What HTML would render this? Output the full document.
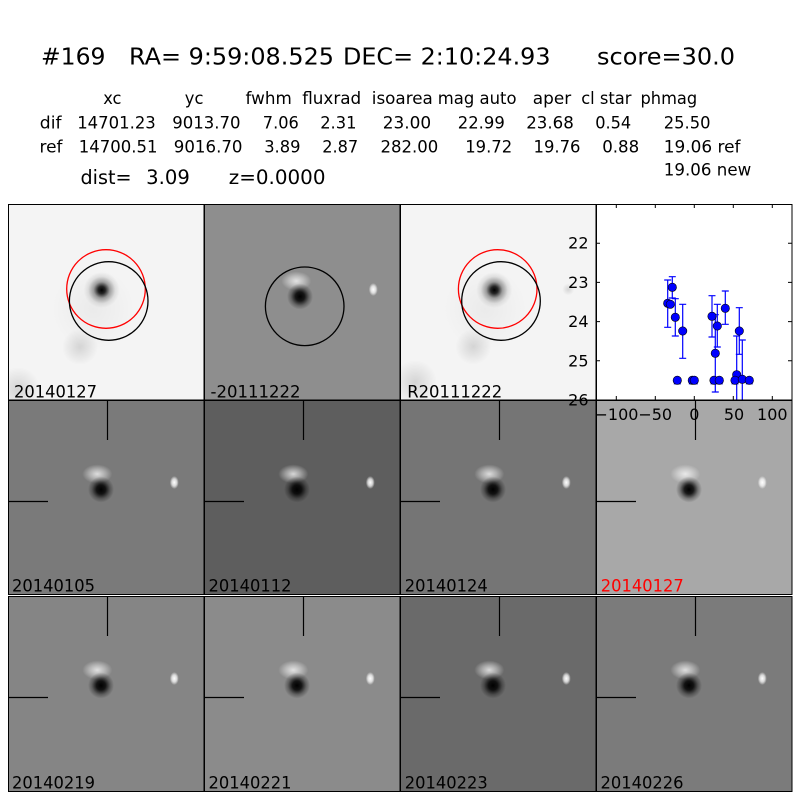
<!DOCTYPE html>
<html><head><meta charset="utf-8"><style>
html,body{margin:0;padding:0;background:#fff;}
svg{display:block;}
text{font-family:"DejaVu Sans","Liberation Sans",sans-serif;}
</style></head><body>
<svg width="800" height="800" viewBox="0 0 800 800" xmlns="http://www.w3.org/2000/svg">
<defs>
<radialGradient id="db"><stop offset="0" stop-color="#000" stop-opacity="1"/><stop offset="0.35" stop-color="#000" stop-opacity="0.85"/><stop offset="0.7" stop-color="#000" stop-opacity="0.3"/><stop offset="1" stop-color="#000" stop-opacity="0"/></radialGradient>
<radialGradient id="wb"><stop offset="0" stop-color="#fff" stop-opacity="0.75"/><stop offset="0.5" stop-color="#fff" stop-opacity="0.4"/><stop offset="1" stop-color="#fff" stop-opacity="0"/></radialGradient>
<radialGradient id="ws"><stop offset="0" stop-color="#fff" stop-opacity="1"/><stop offset="0.55" stop-color="#fff" stop-opacity="0.7"/><stop offset="1" stop-color="#fff" stop-opacity="0"/></radialGradient>
<radialGradient id="star"><stop offset="0" stop-color="#000" stop-opacity="1"/><stop offset="0.2" stop-color="#000" stop-opacity="0.85"/><stop offset="0.45" stop-color="#000" stop-opacity="0.35"/><stop offset="0.75" stop-color="#000" stop-opacity="0.08"/><stop offset="1" stop-color="#000" stop-opacity="0"/></radialGradient>
<radialGradient id="smudge"><stop offset="0" stop-color="#000" stop-opacity="0.13"/><stop offset="1" stop-color="#000" stop-opacity="0"/></radialGradient>
<radialGradient id="halo"><stop offset="0" stop-color="#000" stop-opacity="0.04"/><stop offset="1" stop-color="#000" stop-opacity="0"/></radialGradient>
<g id="diff">
<ellipse cx="89.3" cy="74" rx="15" ry="9.5" fill="url(#wb)"/>
<circle cx="93" cy="89.5" r="13" fill="url(#db)"/>
<ellipse cx="166.3" cy="82.5" rx="4.5" ry="6.5" fill="url(#ws)"/>
</g>
<g id="cross" stroke="#000" stroke-width="1.2">
<line x1="99.5" y1="0" x2="99.5" y2="40"/>
<line x1="0" y1="101.5" x2="40" y2="101.5"/>
</g>
<clipPath id="pc"><rect x="596" y="204" width="196" height="196"/></clipPath>
</defs>

<!-- Header -->
<g fill="#000">
<text x="41" y="64.3" font-size="23" textLength="64.5" lengthAdjust="spacingAndGlyphs">#169</text>
<text x="129" y="64.3" font-size="23" textLength="205" lengthAdjust="spacingAndGlyphs">RA= 9:59:08.525</text>
<text x="343" y="64.3" font-size="23" textLength="207.5" lengthAdjust="spacingAndGlyphs">DEC= 2:10:24.93</text>
<text x="597" y="64.3" font-size="23" textLength="138" lengthAdjust="spacingAndGlyphs">score=30.0</text>

<g font-size="17">
<text x="103.2" y="104" textLength="18.3" lengthAdjust="spacingAndGlyphs">xc</text>
<text x="184.8" y="104" textLength="18.7" lengthAdjust="spacingAndGlyphs">yc</text>
<text x="245.5" y="104" textLength="46.3" lengthAdjust="spacingAndGlyphs">fwhm</text>
<text x="302.2" y="104" textLength="59" lengthAdjust="spacingAndGlyphs">fluxrad</text>
<text x="371.8" y="104" textLength="61" lengthAdjust="spacingAndGlyphs">isoarea</text>
<text x="437.8" y="104" textLength="78.7" lengthAdjust="spacingAndGlyphs">mag auto</text>
<text x="532.8" y="104" textLength="38.4" lengthAdjust="spacingAndGlyphs">aper</text>
<text x="581.2" y="104" textLength="50.3" lengthAdjust="spacingAndGlyphs">cl star</text>
<text x="640.5" y="104" textLength="56.7" lengthAdjust="spacingAndGlyphs">phmag</text>

<text x="39.8" y="128.3" textLength="21.7" lengthAdjust="spacingAndGlyphs">dif</text>
<text x="77.2" y="128.3" textLength="78.6" lengthAdjust="spacingAndGlyphs">14701.23</text>
<text x="172.2" y="128.3" textLength="68.3" lengthAdjust="spacingAndGlyphs">9013.70</text>
<text x="262.8" y="128.3" textLength="36" lengthAdjust="spacingAndGlyphs">7.06</text>
<text x="320.2" y="128.3" textLength="36.3" lengthAdjust="spacingAndGlyphs">2.31</text>
<text x="382.8" y="128.3" textLength="48.4" lengthAdjust="spacingAndGlyphs">23.00</text>
<text x="457.8" y="128.3" textLength="47" lengthAdjust="spacingAndGlyphs">22.99</text>
<text x="526.2" y="128.3" textLength="47.6" lengthAdjust="spacingAndGlyphs">23.68</text>
<text x="595.2" y="128.3" textLength="36" lengthAdjust="spacingAndGlyphs">0.54</text>
<text x="663.8" y="128.3" textLength="46.7" lengthAdjust="spacingAndGlyphs">25.50</text>

<text x="39.5" y="152.3" textLength="23" lengthAdjust="spacingAndGlyphs">ref</text>
<text x="78.8" y="152.3" textLength="78.7" lengthAdjust="spacingAndGlyphs">14700.51</text>
<text x="173.8" y="152.3" textLength="68.7" lengthAdjust="spacingAndGlyphs">9016.70</text>
<text x="264.2" y="152.3" textLength="36.3" lengthAdjust="spacingAndGlyphs">3.89</text>
<text x="322.2" y="152.3" textLength="36" lengthAdjust="spacingAndGlyphs">2.87</text>
<text x="380.5" y="152.3" textLength="57.7" lengthAdjust="spacingAndGlyphs">282.00</text>
<text x="465.2" y="152.3" textLength="47" lengthAdjust="spacingAndGlyphs">19.72</text>
<text x="533.5" y="152.3" textLength="47" lengthAdjust="spacingAndGlyphs">19.76</text>
<text x="602.2" y="152.3" textLength="37" lengthAdjust="spacingAndGlyphs">0.88</text>
<text x="663.8" y="152.3" textLength="76.7" lengthAdjust="spacingAndGlyphs">19.06 ref</text>
<text x="663.8" y="175.7" textLength="87.4" lengthAdjust="spacingAndGlyphs">19.06 new</text>
</g>
<g font-size="19.5">
<text x="80.5" y="184" textLength="51" lengthAdjust="spacingAndGlyphs">dist=</text>
<text x="146.2" y="184" textLength="43.6" lengthAdjust="spacingAndGlyphs">3.09</text>
<text x="228.8" y="184" textLength="96.7" lengthAdjust="spacingAndGlyphs">z=0.0000</text>
</g>
</g>

<!-- Row 1 -->
<svg x="8" y="204" width="196" height="196">
<rect width="196" height="196" fill="#f4f4f4"/>
<circle cx="72" cy="143" r="18" fill="url(#smudge)"/>
<circle cx="10" cy="185" r="22" fill="url(#smudge)"/>
<circle cx="85" cy="105" r="42" fill="url(#halo)"/>
<circle cx="93.7" cy="86" r="18" fill="url(#star)"/>
<circle cx="98" cy="85" r="39.3" fill="none" stroke="#ff0000" stroke-width="1.3"/>
<circle cx="100.7" cy="97" r="39.3" fill="none" stroke="#000" stroke-width="1.3"/>
<text x="6" y="193.7" font-size="17" textLength="83" lengthAdjust="spacingAndGlyphs">20140127</text>
</svg>
<svg x="204" y="204" width="196" height="196">
<rect width="196" height="196" fill="#8e8e8e"/>
<g transform="translate(3,3)"><use href="#diff"/></g>
<circle cx="100.7" cy="102.3" r="39.3" fill="none" stroke="#000" stroke-width="1.3"/>
<text x="6.5" y="193.7" font-size="17" textLength="90" lengthAdjust="spacingAndGlyphs">-20111222</text>
</svg>
<svg x="400" y="204" width="196" height="196">
<rect width="196" height="196" fill="#f4f4f4"/>
<circle cx="73.3" cy="142.7" r="18" fill="url(#smudge)"/>
<circle cx="15" cy="178" r="22" fill="url(#smudge)"/>
<circle cx="85" cy="105" r="42" fill="url(#halo)"/>
<circle cx="168.3" cy="85.3" r="6" fill="url(#smudge)"/>
<circle cx="94.3" cy="86" r="18" fill="url(#star)"/>
<circle cx="97.7" cy="85" r="39.3" fill="none" stroke="#ff0000" stroke-width="1.3"/>
<circle cx="101" cy="97" r="39.3" fill="none" stroke="#000" stroke-width="1.3"/>
<text x="7.2" y="193.7" font-size="17" textLength="95" lengthAdjust="spacingAndGlyphs">R20111222</text>
</svg>

<!-- Row 2 -->
<svg x="8" y="400" width="196" height="195">
<rect width="196" height="195" fill="#7a7a7a"/>
<use href="#diff"/><use href="#cross"/>
<text x="4" y="191.7" font-size="17" textLength="83" lengthAdjust="spacingAndGlyphs">20140105</text>
</svg>
<svg x="204" y="400" width="196" height="195">
<rect width="196" height="195" fill="#5e5e5e"/>
<use href="#diff"/><use href="#cross"/>
<text x="4.5" y="191.7" font-size="17" textLength="83" lengthAdjust="spacingAndGlyphs">20140112</text>
</svg>
<svg x="400" y="400" width="196" height="195">
<rect width="196" height="195" fill="#757575"/>
<use href="#diff"/><use href="#cross"/>
<text x="4.8" y="191.7" font-size="17" textLength="83" lengthAdjust="spacingAndGlyphs">20140124</text>
</svg>
<svg x="596" y="400" width="196" height="195">
<rect width="196" height="195" fill="#a8a8a8"/>
<use href="#diff"/><use href="#cross"/>
<text x="4.8" y="191.7" font-size="17" fill="#ff0000" textLength="83" lengthAdjust="spacingAndGlyphs">20140127</text>
</svg>

<!-- Row 3 -->
<svg x="8" y="596" width="196" height="196">
<rect width="196" height="196" fill="#858585"/>
<use href="#diff"/><use href="#cross"/>
<text x="4" y="192.3" font-size="17" textLength="83" lengthAdjust="spacingAndGlyphs">20140219</text>
</svg>
<svg x="204" y="596" width="196" height="196">
<rect width="196" height="196" fill="#8b8b8b"/>
<use href="#diff"/><use href="#cross"/>
<text x="4.5" y="192.3" font-size="17" textLength="83" lengthAdjust="spacingAndGlyphs">20140221</text>
</svg>
<svg x="400" y="596" width="196" height="196">
<rect width="196" height="196" fill="#6a6a6a"/>
<use href="#diff"/><use href="#cross"/>
<text x="4.8" y="192.3" font-size="17" textLength="83" lengthAdjust="spacingAndGlyphs">20140223</text>
</svg>
<svg x="596" y="596" width="196" height="196">
<rect width="196" height="196" fill="#7b7b7b"/>
<use href="#diff"/><use href="#cross"/>
<text x="4.5" y="192.3" font-size="17" textLength="83" lengthAdjust="spacingAndGlyphs">20140226</text>
</svg>

<!-- Panel borders -->
<g fill="none" stroke="#000" stroke-width="1">
<rect x="8.5" y="204.5" width="195.5" height="195.5"/>
<rect x="204.5" y="204.5" width="195.5" height="195.5"/>
<rect x="400.5" y="204.5" width="195.5" height="195.5"/>
<rect x="8.5" y="400.5" width="195.5" height="194"/>
<rect x="204.5" y="400.5" width="195.5" height="194"/>
<rect x="400.5" y="400.5" width="195.5" height="194"/>
<rect x="596.5" y="400.5" width="195.5" height="194"/>
<rect x="8.5" y="596.5" width="195.5" height="195"/>
<rect x="204.5" y="596.5" width="195.5" height="195"/>
<rect x="400.5" y="596.5" width="195.5" height="195"/>
<rect x="596.5" y="596.5" width="195.5" height="195"/>
</g>

<!-- Light curve plot -->
<rect x="596" y="204" width="196" height="196" fill="#fff"/>
<g clip-path="url(#pc)">
<path fill="none" stroke="#0000ff" stroke-width="1.2" d="
M667.7 280V327.3M664.2 280H671.2M664.2 327.3H671.2
M672.3 276.7V298M668.8 276.7H675.8M668.8 298H675.8
M675.3 298.7V336M671.8 298.7H678.8M671.8 336H678.8
M682.7 304.3V358.3M679.2 304.3H686.2M679.2 358.3H686.2
M712 295.7V337M708.5 295.7H715.5M708.5 337H715.5
M715.3 314.7V392M711.8 314.7H718.8M711.8 392H718.8
M717.3 304.3V347M713.8 304.3H720.8M713.8 347H720.8
M725.3 291V324.3M721.8 291H728.8M721.8 324.3H728.8
M739.3 307.7V354.3M735.8 307.7H742.8M735.8 354.3H742.8
M736.7 336V413M733.2 336H740.2
M742.3 340V419M738.8 340H745.8
M677.3 379V383.8M673.8 383.8H680.8
M692.3 379V383.8M688.8 383.8H695.8
M694.3 379V383.8M690.8 383.8H697.8
M714 379V383.8M710.5 383.8H717.5
M719.3 379V383.8M715.8 383.8H722.8
M735 379V383.8M731.5 383.8H738.5
M749.3 379V383.8M745.8 383.8H752.8
"/>
<g fill="#0000ff" stroke="#000" stroke-width="0.6">
<circle cx="667.7" cy="303.3" r="4.2"/>
<circle cx="670.3" cy="304.3" r="4.2"/>
<circle cx="672.3" cy="287.3" r="4.2"/>
<circle cx="675.3" cy="317.3" r="4.2"/>
<circle cx="682.7" cy="331" r="4.2"/>
<circle cx="677.3" cy="380.3" r="4.2"/>
<circle cx="692.3" cy="380.3" r="4.2"/>
<circle cx="694.3" cy="380.3" r="4.2"/>
<circle cx="712" cy="316.3" r="4.2"/>
<circle cx="715.3" cy="353.3" r="4.2"/>
<circle cx="717.3" cy="326" r="4.2"/>
<circle cx="714" cy="380.3" r="4.2"/>
<circle cx="719.3" cy="380.3" r="4.2"/>
<circle cx="725.3" cy="308.3" r="4.2"/>
<circle cx="739.3" cy="331" r="4.2"/>
<circle cx="736.7" cy="374.7" r="4.2"/>
<circle cx="735" cy="380.3" r="4.2"/>
<circle cx="742.3" cy="379.3" r="4.2"/>
<circle cx="749.3" cy="380.3" r="4.2"/>
</g>
</g>
<g stroke="#000" stroke-width="1" fill="none">
<path d="M616.3 204V208M655.3 204V208M694.3 204V208M733.3 204V208M772.3 204V208
M616.3 400V396M655.3 400V396M694.3 400V396M733.3 400V396M772.3 400V396
M596 243.2H600M596 282.4H600M596 321.6H600M596 360.8H600
M792 243.2H788M792 282.4H788M792 321.6H788M792 360.8H788"/>
<rect x="596.5" y="204.5" width="195.5" height="195.5"/>
</g>
<g font-size="16" fill="#000" text-anchor="end">
<text x="588.5" y="248.7">22</text>
<text x="588.5" y="287.9">23</text>
<text x="588.5" y="327.1">24</text>
<text x="588.5" y="366.3">25</text>
<text x="588.5" y="405.5">26</text>
</g>
<g font-size="16" fill="#000" text-anchor="middle">
<text x="616.5" y="420">−100</text>
<text x="655.2" y="420">−50</text>
<text x="694.3" y="420">0</text>
<text x="734" y="420">50</text>
<text x="772.3" y="420">100</text>
</g>
</svg>
</body></html>
